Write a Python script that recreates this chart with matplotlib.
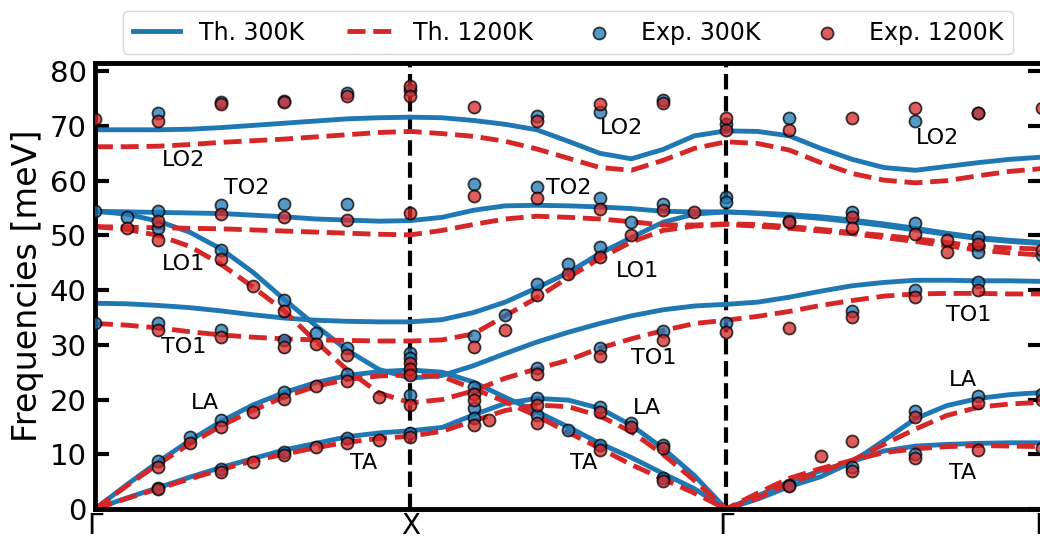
import numpy as np
import matplotlib
matplotlib.use("Agg")
import matplotlib.pyplot as plt

# ---------------- data ----------------
# path coordinate: Γ=0, X=1, Γ=2, L=3 ; theory sampled every 0.1
q = np.linspace(0, 3, 31)
hs_pos = [0, 1, 2, 3]
hs_labels = ["Γ", "X", "Γ", "L"]

# Theory 300 K (meV), one list per branch along the whole path
th300_b1 = [69.3, 69.3, 69.3, 69.4, 69.7, 70.1, 70.5, 70.9, 71.3, 71.5, 71.6,
            71.5, 71.0, 70.3, 69.3, 67.2, 65.0, 64.0, 65.7, 68.2, 69.1,
            69.0, 68.2, 65.9, 63.9, 62.4, 61.9, 62.6, 63.3, 63.9, 64.3]
th300_b2 = [54.4, 54.3, 54.2, 54.1, 54.0, 53.7, 53.4, 53.0, 52.8, 52.6, 52.7,
            53.3, 54.6, 55.4, 55.5, 55.4, 55.2, 54.9, 54.4, 54.3, 54.3,
            54.1, 53.8, 53.4, 52.8, 52.1, 51.3, 50.4, 49.6, 49.1, 48.7]
th300_b3 = [54.4, 53.9, 52.6, 50.6, 47.5, 43.3, 38.3, 33.5, 29.0, 25.5, 23.9,
            24.4, 26.2, 28.4, 30.5, 32.3, 33.9, 35.3, 36.4, 37.1, 37.4,
            37.8, 38.7, 39.8, 40.8, 41.4, 41.8, 41.8, 41.7, 41.7, 41.6]
th300_b4 = [37.6, 37.5, 37.2, 36.8, 36.2, 35.5, 34.9, 34.5, 34.3, 34.2, 34.2,
            34.6, 35.9, 37.8, 40.4, 43.2, 46.7, 49.6, 52.4, 53.9, 54.3,
            54.0, 53.6, 53.1, 52.5, 51.8, 51.0, 50.2, 49.4, 48.9, 48.5]
th300_b5 = [0.0, 4.4, 8.6, 12.5, 16.0, 19.0, 21.3, 23.1, 24.4, 25.1, 25.4,
            25.0, 23.2, 20.4, 17.8, 15.0, 12.0, 9.4, 6.5, 3.7, 0.0,
            1.8, 4.1, 5.9, 8.6, 12.5, 16.5, 18.9, 20.2, 20.9, 21.3]
th300_b6 = [0.0, 2.0, 3.9, 5.8, 7.6, 9.2, 10.8, 12.0, 13.2, 13.9, 14.3,
            14.9, 17.2, 19.3, 20.2, 19.9, 18.4, 15.3, 11.1, 6.1, 0.0,
            2.4, 5.0, 7.0, 8.7, 10.6, 11.5, 11.8, 12.0, 12.1, 12.1]

# Theory 1200 K (meV)
th1200_b1 = [66.2, 66.2, 66.3, 66.6, 67.0, 67.3, 67.6, 68.0, 68.4, 68.8, 69.0,
             68.6, 68.1, 67.2, 65.8, 64.1, 62.4, 61.9, 63.7, 65.9, 67.1,
             66.8, 65.6, 63.3, 61.3, 60.1, 59.6, 60.0, 60.9, 61.7, 62.2]
th1200_b2 = [51.6, 51.5, 51.4, 51.3, 51.2, 51.0, 50.8, 50.6, 50.4, 50.2, 50.1,
             50.9, 52.0, 53.0, 53.5, 53.3, 53.0, 52.5, 51.9, 51.9, 52.1,
             52.0, 51.6, 51.1, 50.5, 50.0, 49.4, 48.7, 48.0, 47.7, 47.5]
th1200_b3 = [51.6, 51.1, 50.0, 48.0, 44.7, 40.6, 36.2, 30.6, 25.4, 21.2, 19.4,
             20.0, 21.6, 23.9, 25.6, 27.2, 29.4, 31.1, 32.6, 33.9, 34.5,
             35.2, 36.1, 37.2, 38.1, 38.9, 39.3, 39.4, 39.4, 39.3, 39.3]
th1200_b4 = [33.9, 33.6, 33.1, 32.4, 31.8, 31.4, 31.1, 30.9, 30.8, 30.7, 30.7,
             30.9, 32.0, 35.3, 38.6, 42.3, 45.8, 48.8, 50.9, 51.7, 52.0,
             51.7, 51.3, 50.8, 50.3, 49.6, 48.9, 48.1, 47.3, 46.8, 46.4]
th1200_b5 = [0.0, 4.2, 8.2, 11.9, 15.2, 18.0, 20.5, 22.4, 23.7, 24.3, 24.5,
             24.2, 22.0, 19.6, 17.0, 14.0, 11.1, 8.1, 5.5, 2.9, 0.0,
             2.0, 4.7, 6.8, 8.9, 11.8, 14.6, 17.1, 18.6, 19.2, 19.5]
th1200_b6 = [0.0, 1.9, 3.7, 5.5, 7.2, 8.8, 10.0, 11.2, 12.2, 12.9, 13.3,
             14.2, 16.1, 18.0, 19.0, 18.7, 17.0, 14.1, 10.0, 5.2, 0.0,
             2.9, 5.6, 7.4, 8.9, 10.3, 11.0, 11.4, 11.6, 11.5, 11.4]

# Experiment 300 K
exp300_q = [0.0, 0.0, 0.1,
            0.2, 0.2, 0.2, 0.2, 0.2, 0.2,
            0.3,
            0.4, 0.4, 0.4, 0.4, 0.4, 0.4,
            0.6, 0.6, 0.6, 0.6, 0.6, 0.6,
            0.7,
            0.8, 0.8, 0.8, 0.8, 0.8,
            1.0, 1.0, 1.0, 1.0, 1.0,
            1.2, 1.2, 1.2, 1.2, 1.2,
            1.3,
            1.4, 1.4, 1.4, 1.4, 1.4, 1.4,
            1.5, 1.5,
            1.6, 1.6, 1.6, 1.6, 1.6, 1.6,
            1.7, 1.7,
            1.8, 1.8, 1.8, 1.8, 1.8,
            2.0, 2.0, 2.0, 2.0,
            2.2, 2.2, 2.2,
            2.4, 2.4, 2.4,
            2.6, 2.6, 2.6, 2.6, 2.6,
            2.8, 2.8, 2.8, 2.8, 2.8,
            3.0, 3.0]
exp300_E = [54.4, 34.0, 53.4,
            72.3, 54.5, 51.3, 34.0, 8.8, 3.8,
            13.1,
            74.3, 55.5, 47.4, 32.8, 16.3, 7.4,
            74.6, 55.8, 38.2, 30.9, 21.4, 10.5,
            32.1,
            76.1, 55.7, 29.4, 24.6, 12.9,
            76.5, 28.5, 27.6, 20.9, 13.8,
            59.4, 31.6, 22.3, 18.4, 16.6,
            35.4,
            71.8, 58.9, 41.2, 25.7, 20.2, 17.2,
            44.7, 14.4,
            72.6, 56.9, 47.8, 29.4, 18.7, 11.7,
            52.4, 15.8,
            74.7, 55.8, 32.6, 11.7, 5.6,
            70.4, 57.0, 56.1, 33.9,
            71.4, 52.7, 4.3,
            54.3, 36.2, 7.6,
            70.9, 52.2, 40.0, 17.9, 10.0,
            72.3, 49.7, 47.0, 41.5, 20.6,
            46.4, 21.1]

# Experiment 1200 K
exp1200_q = [0.0, 0.1,
             0.2, 0.2, 0.2, 0.2, 0.2, 0.2,
             0.3,
             0.4, 0.4, 0.4, 0.4, 0.4, 0.4,
             0.5, 0.5, 0.5,
             0.6, 0.6, 0.6, 0.6, 0.6, 0.6,
             0.7, 0.7, 0.7,
             0.8, 0.8, 0.8, 0.8, 0.8,
             0.9, 0.9,
             1.0, 1.0, 1.0, 1.0, 1.0, 1.0, 1.0, 1.0,
             1.2, 1.2, 1.2, 1.2, 1.2, 1.2,
             1.25,
             1.3,
             1.4, 1.4, 1.4, 1.4, 1.4, 1.4,
             1.5,
             1.6, 1.6, 1.6, 1.6, 1.6, 1.6,
             1.7, 1.7,
             1.8, 1.8, 1.8, 1.8, 1.8,
             1.9,
             2.0, 2.0, 2.0,
             2.2, 2.2, 2.2, 2.2,
             2.3,
             2.4, 2.4, 2.4, 2.4, 2.4, 2.4,
             2.6, 2.6, 2.6, 2.6, 2.6,
             2.7, 2.7,
             2.8, 2.8, 2.8, 2.8, 2.8,
             3.0, 3.0, 3.0, 3.0]
exp1200_E = [71.3, 51.3,
             70.9, 52.6, 49.1, 32.8, 7.7, 3.6,
             12.0,
             74.0, 53.9, 45.6, 31.4, 15.0, 6.8,
             40.7, 17.8, 8.6,
             74.4, 53.4, 36.2, 29.6, 20.1, 9.9,
             30.1, 22.5, 11.3,
             75.4, 52.8, 28.1, 23.4, 12.0,
             20.5, 12.6,
             77.3, 75.5, 54.1, 26.7, 25.6, 24.4, 19.0, 13.1,
             73.5, 57.2, 29.6, 21.1, 19.9, 15.3,
             16.3,
             32.8,
             70.9, 56.9, 39.1, 24.6, 19.0, 15.8,
             43.0,
             74.1, 54.9, 46.0, 27.9, 17.8, 10.7,
             50.0, 15.0,
             74.2, 54.6, 30.9, 11.1, 5.2,
             54.3,
             71.4, 69.3, 32.4,
             69.3, 52.5, 33.0, 4.2,
             9.6,
             71.4, 53.4, 51.3, 35.0, 12.5, 7.0,
             73.2, 50.2, 38.7, 16.9, 9.3,
             49.1, 47.0,
             72.3, 48.5, 40.1, 19.3, 10.7,
             73.2, 47.3, 20.0, 11.1]

mode_labels = ["LO2", "TO2", "LO1", "TO1", "LA", "TA",
               "LO2", "TO2", "LO1", "TO1", "LA", "TA",
               "LO2", "TO1", "LA", "TA"]
mode_label_q = [0.28, 0.48, 0.28, 0.28, 0.35, 0.85,
                1.67, 1.50, 1.72, 1.77, 1.75, 1.55,
                2.67, 2.77, 2.75, 2.75]
mode_label_E = [63.7, 58.6, 44.7, 29.6, 19.4, 8.4,
                69.6, 58.6, 43.5, 27.6, 18.4, 8.4,
                67.8, 35.4, 23.6, 6.6]

# ---------------- plot ----------------
BLUE = "#1f77b4"
RED = "#d62728"

fig = plt.figure(figsize=(10.4, 5.4), dpi=100)
ax = fig.add_axes([0.0913, 0.0574, 0.9102, 0.8259])

th300 = [th300_b1, th300_b2, th300_b3, th300_b4, th300_b5, th300_b6]
th1200 = [th1200_b1, th1200_b2, th1200_b3, th1200_b4, th1200_b5, th1200_b6]

for i, b in enumerate(th300):
    ax.plot(q, b, color=BLUE, lw=3.5, zorder=2, solid_joinstyle="round",
            label="Th. 300K" if i == 0 else None)
for i, b in enumerate(th1200):
    ax.plot(q, b, color=RED, lw=3.5, ls="--", zorder=2.1,
            label="Th. 1200K" if i == 0 else None)

for xv in hs_pos[1:3]:
    ax.axvline(xv, color="k", lw=3, ls="--", zorder=1.5)

ax.scatter(exp300_q, exp300_E, s=75, color=BLUE, alpha=0.75,
           edgecolors="k", linewidths=1.3, zorder=3, label="Exp. 300K")
ax.scatter(exp1200_q, exp1200_E, s=75, color=RED, alpha=0.75,
           edgecolors="k", linewidths=1.3, zorder=3.1, label="Exp. 1200K")

for lab, xq, ye in zip(mode_labels, mode_label_q, mode_label_E):
    ax.text(xq, ye, lab, fontsize=16, ha="center", va="center", zorder=4)

ax.set_xlim(0, 3)
ax.set_ylim(0, 81.5)
ax.set_xticks(hs_pos)
ax.set_xticklabels(hs_labels)
ax.set_yticks(np.arange(0, 81, 10))
ax.tick_params(axis="y", direction="in", length=10, width=3, labelsize=21,
               left=True, right=True, pad=6)
ax.tick_params(axis="x", direction="in", length=0, width=3, labelsize=20,
               pad=2)
for sp in ax.spines.values():
    sp.set_linewidth(3.5)
ax.set_ylabel("Frequencies [meV]", fontsize=24)

leg = ax.legend(loc="lower center", bbox_to_anchor=(0.5, 1.02), ncol=4,
                fontsize=17, frameon=True, borderaxespad=0.0,
                columnspacing=1.8)

fig.savefig("out.png", dpi=100)
